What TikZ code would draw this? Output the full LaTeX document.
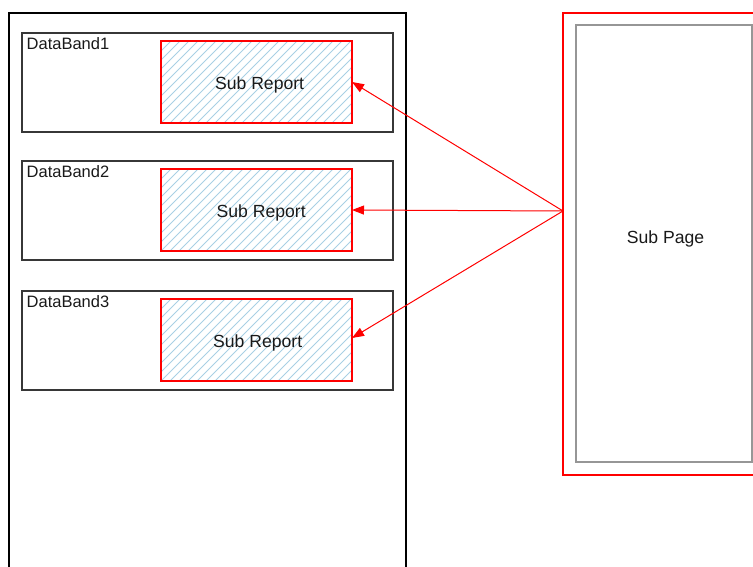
\documentclass[tikz,border=0pt]{standalone}
\usepackage{fontspec}
\setmainfont{Liberation Sans}
\usetikzlibrary{arrows.meta}
\definecolor{hatchblue}{RGB}{168,208,228}
\definecolor{bandgray}{RGB}{55,55,55}
\definecolor{innergray}{RGB}{150,150,150}
\definecolor{txt}{RGB}{25,25,25}
\begin{document}
\begin{tikzpicture}[x=1pt,y=-1pt,
  box/.style={anchor=north west, inner sep=0pt, outer sep=0pt},
  pagebox/.style={box, draw=black, line width=1.3pt},
  bandbox/.style={box, draw=bandgray, line width=1.3pt, minimum width=371pt, minimum height=99pt},
  subrep/.style={box, minimum width=191pt, minimum height=82pt},
  subborder/.style={draw=red, line width=1.2pt},
  hatchline/.style={draw=hatchblue, line width=0.8pt},
  bandlabel/.style={anchor=base west, inner sep=0pt, text=txt, font=\fontsize{16.5}{19}\selectfont},
  sublabel/.style={anchor=base, inner sep=0pt, text=txt, font=\fontsize{17.6}{20}\selectfont},
  arr/.style={draw=red, line width=1pt, -{Triangle[length=12pt,width=9pt]}}
]
\useasboundingbox (0,0) rectangle (753,567);
\clip (0,0) rectangle (753,567);

% main page
\node[pagebox, minimum width=397pt, minimum height=600pt] (page) at (9,13) {};

% data bands
\node[bandbox] (band1) at (22,33) {};
\node[bandbox] (band2) at (22,161) {};
\node[bandbox] (band3) at (22,291) {};
\node[bandlabel] (bl1) at (26.5,49.3) {DataBand1};
\node[bandlabel] (bl2) at (26.5,177.3) {DataBand2};
\node[bandlabel] (bl3) at (26.5,307.3) {DataBand3};

% sub reports
\node[subrep] (sr1) at (161,41) {};
\node[subrep] (sr2) at (161,169) {};
\node[subrep] (sr3) at (161,299) {};
\foreach \s in {sr1,sr2,sr3}{
  \begin{scope}
    \clip (\s.north west) rectangle (\s.south east);
    \foreach \k in {0,...,32}{
      \draw[hatchline] ([xshift=\k*9pt-90pt]\s.south west) -- ++(95,-95);
    }
  \end{scope}
  \draw[subborder] (\s.north west) rectangle (\s.south east);
}
\node[sublabel] (st1) at (259.6,89.3) {Sub Report};
\node[sublabel] (st2) at (261.2,217.3) {Sub Report};
\node[sublabel] (st3) at (257.7,347.5) {Sub Report};

% sub page
\node[box, draw=red, line width=1.2pt, minimum width=260pt, minimum height=462pt] (subouter) at (563,13) {};
\node[box, draw=innergray, line width=1.4pt, minimum width=176pt, minimum height=437pt] (subinner) at (576,25) {};
\node[sublabel] (sp) at (665.5,243.7) {Sub Page};

% arrows
\coordinate (src) at (563,211);
\draw[arr] (src) -- (sr1.east);
\draw[arr] (src) -- (sr2.east);
\draw[arr] (src) -- ([yshift=2pt]sr3.east);
\end{tikzpicture}
\end{document}
